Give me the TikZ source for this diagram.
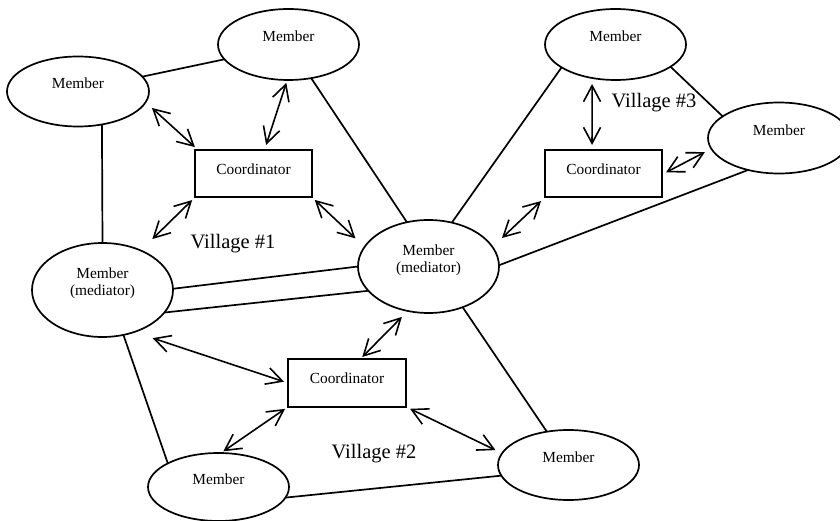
\documentclass[tikz,border=0pt]{standalone}
\usepackage{fontspec}
\setmainfont{Liberation Serif}
\usetikzlibrary{shapes.geometric,arrows.meta}

\newcommand\memberfont{\fontsize{15.4}{17}\selectfont}
\newcommand\villagefont{\fontsize{20.5}{24}\selectfont}

\tikzset{
  member/.style={ellipse, draw, line width=1.7pt, inner sep=0pt, outer sep=0pt,
    font=\memberfont, text height=5pt, text depth=10.4pt},
  mediator/.style={member, text height=0pt, text depth=22pt},
  coordbox/.style={rectangle, draw, line width=1.7pt, inner sep=0pt, outer sep=0pt,
    minimum width=117pt, minimum height=47pt,
    font=\memberfont, text height=8pt, text depth=6.6pt},
  tie/.style={line width=1.7pt},
  link/.style={line width=1.6pt,
    {Straight Barb[length=16pt,width=17pt]}-{Straight Barb[length=16pt,width=17pt]}},
  village/.style={font=\villagefont, anchor=base, inner sep=0pt}
}

\begin{document}
\begin{tikzpicture}[x=1pt, y=-1pt]
  \useasboundingbox (0,0) rectangle (840,521);

  % members
  \node[member, minimum width=142pt, minimum height=70pt] (m1) at (78,91.5) {Member};
  \node[member, minimum width=141pt, minimum height=71pt] (m2) at (288.5,44.5) {Member};
  \node[member, minimum width=141pt, minimum height=71pt] (m3) at (615.5,44.5) {Member};
  \node[member, minimum width=142pt, minimum height=71pt] (m4) at (779,138) {Member};
  \node[member, minimum width=141pt, minimum height=68pt] (mbl) at (218.5,487) {Member};
  \node[member, minimum width=141pt, minimum height=70pt] (mbr) at (568.5,465) {Member};

  % mediators
  \node[mediator, minimum width=141pt, minimum height=93pt] (mc) at (428.5,266.5)
    {\begin{tabular}[t]{@{}c@{}}Member\\(mediator)\end{tabular}};
  \node[mediator, minimum width=141pt, minimum height=94pt] (ml) at (102.5,290)
    {\begin{tabular}[t]{@{}c@{}}Member\\(mediator)\end{tabular}};

  % coordinators
  \node[coordbox] (c1) at (253.5,173.5) {Coordinator};
  \node[coordbox] (c3) at (603.5,173.5) {Coordinator};
  \node[coordbox, minimum width=118pt, minimum height=48pt] (c2) at (347,383) {Coordinator};

  % village labels
  \node[village] (v1) at (233,248) {Village \#1};
  \node[village] (v3) at (654,108) {Village \#3};
  \node[village] (v2) at (374,458) {Village \#2};

  % ties between members
  \draw[tie] (m1.13) -- (m2.193.6);
  \draw[tie] (m1.306.7) -- (ml.north);
  \draw[tie] (m2.304) -- (mc.116.3);
  \draw[tie] (m3.203.4) -- (mc.62.7);
  \draw[tie] (m3.338.6) -- (m4.159.8);
  \draw[tie] (m4.226.8) -- (mc.1.2);
  \draw[tie] (ml.1) -- (mc.180);
  \draw[tie] (ml.340.6) -- (mc.202);
  \draw[tie] (ml.295.6) -- (mbl.155);
  \draw[tie] (mbl.351.7) -- (mbr.189.7);
  \draw[tie] (mc.310.5) -- (mbr.123.5);

  % coordinator links
  \draw[link, shorten <=8.5pt, shorten >=4.3pt] (m1.351.5) -- (c1.157.7);
  \draw[link, shorten <=3pt, shorten >=5.3pt] (m2.268.4) -- (c1.65.3);
  \draw[link, shorten <=4.4pt, shorten >=16.3pt] (c1.202.3) -- (ml.46.6);
  \draw[link, shorten <=4.2pt, shorten >=12.5pt] (c1.338.1) -- (mc.163.8);
  \draw[link, shorten <=6pt, shorten >=5pt] (m3.235) -- (c3.116.1);
  \draw[link, shorten <=4.5pt, shorten >=7.2pt] (c3.359.5) -- (m4.189);
  \draw[link, shorten <=13pt, shorten >=5.9pt] (mc.17.1) -- (c3.202.3);
  \draw[link, shorten <=19.5pt, shorten >=4.2pt] (ml.307.4) -- (c2.180.3);
  \draw[link, shorten <=2.8pt, shorten >=8.4pt] (c2.61.6) -- (mc.245.2);
  \draw[link, shorten <=3.6pt, shorten >=3pt] (c2.202.1) -- (mbl.86.7);
  \draw[link, shorten <=4.5pt, shorten >=7.3pt] (c2.338.7) -- (mbr.170.9);
\end{tikzpicture}
\end{document}
